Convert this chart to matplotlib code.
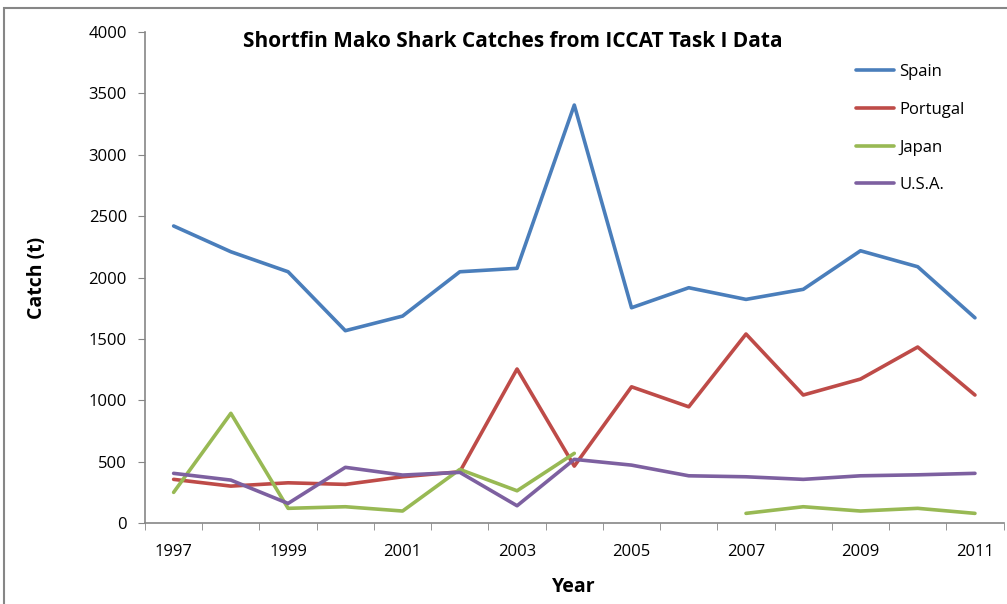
import numpy as np
import matplotlib.pyplot as plt
from matplotlib.patches import Rectangle

years = np.arange(1997, 2012)
spain = [2420, 2210, 2047, 1567, 1686, 2047, 2075, 3405, 1754, 1917, 1822, 1904, 2218, 2088, 1672]
portugal = [356, 301, 328, 315, 377, 418, 1255, 464, 1110, 947, 1540, 1043, 1173, 1434, 1043]
japan = [250, 894, 120, 133, 98, 437, 263, 568, np.nan, np.nan, 79, 133, 98, 120, 79]
usa = [405, 350, 160, 454, 391, 413, 141, 519, 472, 385, 377, 356, 385, 393, 405]

names = ['Spain', 'Portugal', 'Japan', 'U.S.A.']
colors = ['#4A7EBB', '#BE4B48', '#98B954', '#7D60A0']

plt.rcParams['font.family'] = ['Open Sans', 'DejaVu Sans']

fig = plt.figure(figsize=(10.07, 6.04), dpi=100)
ax = fig.add_axes([0.144, 0.134, 0.8526, 0.813])

for vals, name, c in zip([spain, portugal, japan, usa], names, colors):
    ax.plot(years, vals, color=c, lw=2.6, label=name, solid_capstyle='round', solid_joinstyle='round')

ax.set_xlim(1996.5, 2011.5)
ax.set_ylim(0, 4000)
ax.set_yticks(np.arange(0, 4001, 500))
ax.set_xticks(years[::2])
ax.set_xticks(np.arange(1996.5, 2012, 1), minor=True)
ax.tick_params(axis='x', which='major', length=0, labelsize=12, pad=15, colors='black')
ax.tick_params(axis='x', which='minor', length=5, color='#868686')
ax.tick_params(axis='y', length=5, color='#868686', labelsize=12, pad=8)

for s in ['top', 'right']:
    ax.spines[s].set_visible(False)
for s in ['left', 'bottom']:
    ax.spines[s].set_color('#868686')
    ax.spines[s].set_linewidth(1.2)

ax.set_xlabel('Year', fontsize=14, fontweight='bold', labelpad=12)
ax.set_ylabel('Catch (t)', fontsize=14, fontweight='bold', labelpad=30)
fig.text(0.509, 0.932, 'Shortfin Mako Shark Catches from ICCAT Task I Data',
         ha='center', va='center', fontsize=15, fontweight='bold')

leg = ax.legend(loc='upper right', bbox_to_anchor=(0.972, 0.965), frameon=False,
                fontsize=12, handlelength=2.3, labelspacing=1.3, handletextpad=0.3)

fig.patches.append(Rectangle((0.004, -0.1), 1.2, 1.087, transform=fig.transFigure,
                             fill=False, edgecolor='#868686', lw=1.5))

fig.savefig('out.png', dpi=100)
